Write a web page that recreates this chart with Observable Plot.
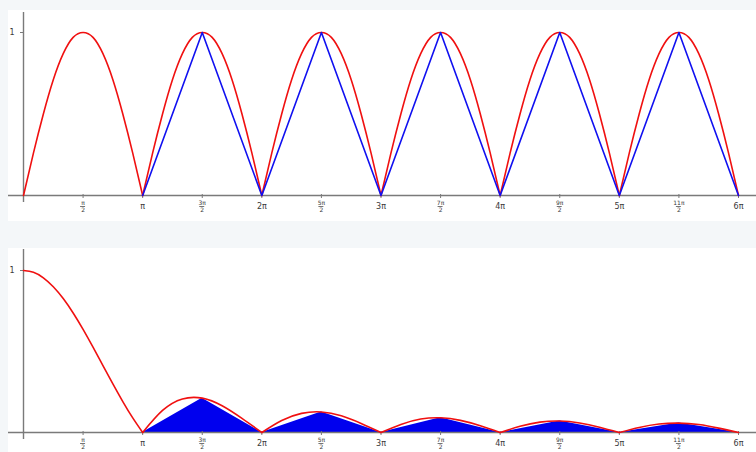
<!DOCTYPE html>
<html>
<head>
<meta charset="utf-8">
<script src="https://cdn.jsdelivr.net/npm/d3@7"></script>
<script src="https://cdn.jsdelivr.net/npm/@observablehq/plot@0.6"></script>
<style>
  html, body { margin: 0; padding: 0; background: #f4f7f9; }
  #topPanel { margin: 10px 0 0 8px; width: 748px; height: 211px; background: #fff; }
  #bottomPanel { margin: 27px 0 0 8px; width: 748px; height: 204px; background: #fff; }
  svg { display: block; overflow: visible; }
</style>
</head>
<body>
<div id="topPanel"></div>
<div id="bottomPanel"></div>
<script>
// x values are in units of π
const intTicks = [1, 2, 3, 4, 5, 6];
const intLabels = ["π", "2π", "3π", "4π", "5π", "6π"];
const halfTicks = [0.5, 1.5, 2.5, 3.5, 4.5, 5.5];
const halfNumerators = ["π", "3π", "5π", "7π", "9π", "11π"];
const halfDenominators = ["2", "2", "2", "2", "2", "2"];
const yTicks = [1];
const yTickLabels = ["1"];

// top panel: |sin x| arches (profile read in steps of π/12)
const archStarts = [0, 1, 2, 3, 4, 5];
const archOffsets = [0, 1/12, 2/12, 3/12, 4/12, 5/12, 6/12, 7/12, 8/12, 9/12, 10/12, 11/12, 1];
const archValues = [0, 0.26, 0.5, 0.71, 0.87, 0.97, 1, 0.97, 0.87, 0.71, 0.5, 0.26, 0];

// top panel: blue triangle wave
const triX = [1, 1.5, 2, 2.5, 3, 3.5, 4, 4.5, 5, 5.5, 6];
const triY = [0, 1, 0, 1, 0, 1, 0, 1, 0, 1, 0];

// bottom panel: first (tall) arch, steps of π/12
const firstArchValues = [1, 0.989, 0.955, 0.900, 0.827, 0.738, 0.637, 0.527, 0.413, 0.300, 0.191, 0.090, 0];
// bottom panel: later damped arches, steps of π/6
const dampedOffsets = [0, 1/6, 2/6, 3/6, 4/6, 5/6, 1];
const dampedArches = [
  [0, 0.136, 0.207, 0.212, 0.165, 0.087, 0],
  [0, 0.074, 0.118, 0.127, 0.103, 0.056, 0],
  [0, 0.050, 0.083, 0.091, 0.075, 0.042, 0],
  [0, 0.038, 0.064, 0.071, 0.059, 0.033, 0],
  [0, 0.031, 0.052, 0.058, 0.049, 0.027, 0]
];
// bottom panel: blue filled triangles
const peakX = [1, 1.5, 2, 2.5, 3, 3.5, 4, 4.5, 5, 5.5, 6];
const peakY = [0, 0.212, 0, 0.127, 0, 0.091, 0, 0.071, 0, 0.058, 0];

const topRed = archStarts.flatMap((s, a) => archOffsets.map((o, j) => ({x: s + o, y: archValues[j], arch: a})));
const topBlue = triX.map((x, i) => ({x, y: triY[i]}));
const botRed = [
  ...firstArchValues.map((y, j) => ({x: archOffsets[j], y, arch: 0})),
  ...dampedArches.flatMap((arr, a) => arr.map((y, j) => ({x: a + 1 + dampedOffsets[j], y, arch: a + 1})))
];
const botBlue = peakX.map((x, i) => ({x, y: peakY[i]}));

const axisColor = "#7a7a7a";
const labelColor = "#3a3a3a";

function axisMarks(extendTop) {
  return [
    Plot.ruleY([0], {stroke: axisColor, strokeWidth: 1.4, insetLeft: -15, insetRight: -18}),
    Plot.ruleX([0], {stroke: axisColor, strokeWidth: 1.4, insetTop: -extendTop, insetBottom: -7}),
    Plot.ruleX([...halfTicks, ...intTicks], {x: d => d, y1: 0, y2: 0, insetTop: -1, insetBottom: -3, stroke: axisColor, strokeWidth: 1}),
    Plot.ruleY(yTicks, {y: d => d, x1: 0, x2: 0, insetLeft: -3, stroke: axisColor, strokeWidth: 1}),
    Plot.text(yTicks, {x: 0, y: d => d, text: yTickLabels, dx: -9, textAnchor: "end", fontSize: 8, fill: labelColor}),
    Plot.text(intTicks, {x: d => d, y: 0, text: intLabels, dy: 11, fontSize: 8, fill: labelColor}),
    Plot.text(halfTicks, {x: d => d, y: 0, text: halfNumerators, dy: 8, fontSize: 6, fill: labelColor}),
    Plot.ruleY(halfTicks, {y: 0, x1: d => d, x2: d => d, insetLeft: -2.5, insetRight: -2.5, dy: 11, stroke: labelColor, strokeWidth: 0.7}),
    Plot.text(halfTicks, {x: d => d, y: 0, text: halfDenominators, dy: 15, fontSize: 6, fill: labelColor})
  ];
}

const common = {
  width: 748,
  marginLeft: 15,
  marginRight: 18,
  x: {domain: [0, 6], axis: null},
  y: {domain: [0, 1], axis: null},
  style: {background: "transparent", fontFamily: "DejaVu Sans, sans-serif", overflow: "visible"}
};

const topChart = Plot.plot({
  ...common,
  height: 211,
  marginTop: 22,
  marginBottom: 26,
  marks: [
    ...axisMarks(20),
    Plot.line(topRed, {x: "x", y: "y", z: "arch", stroke: "#f01010", strokeWidth: 1.6, curve: "natural"}),
    Plot.line(topBlue, {x: "x", y: "y", stroke: "#1010f0", strokeWidth: 1.6})
  ]
});
document.getElementById("topPanel").append(topChart);

const bottomChart = Plot.plot({
  ...common,
  height: 204,
  marginTop: 22,
  marginBottom: 20,
  marks: [
    Plot.areaY(botBlue, {x: "x", y: "y", fill: "#0000ee"}),
    ...axisMarks(21),
    Plot.line(botRed, {x: "x", y: "y", z: "arch", stroke: "#f01010", strokeWidth: 1.6, curve: "natural"})
  ]
});
document.getElementById("bottomPanel").append(bottomChart);
</script>
</body>
</html>
